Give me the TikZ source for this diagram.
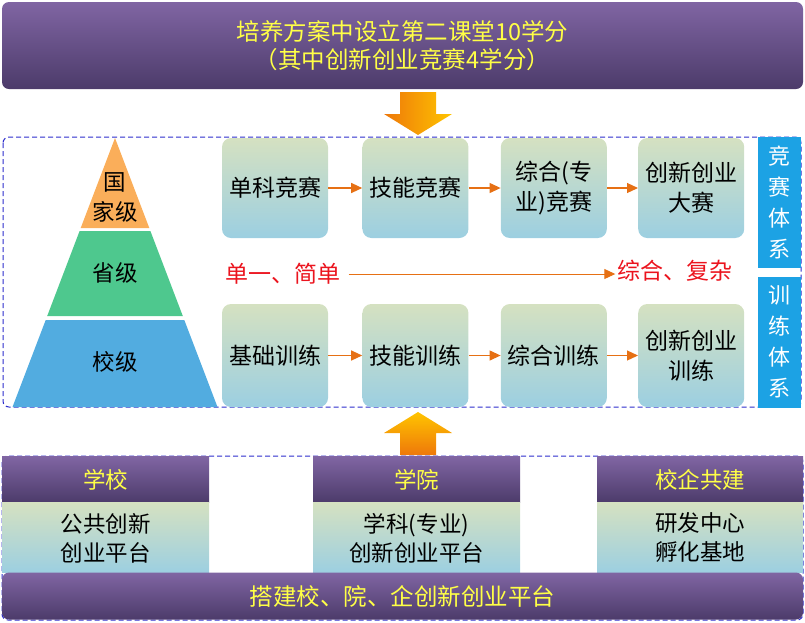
\documentclass[tikz,border=0pt]{standalone}
\usepackage{fontspec}
\setmainfont{Noto Sans CJK SC}
\usetikzlibrary{positioning,arrows.meta}

\definecolor{purpleTop}{RGB}{128,101,163}
\definecolor{purpleBot}{RGB}{76,59,106}
\definecolor{boxTop}{RGB}{213,225,193}
\definecolor{boxBot}{RGB}{156,207,225}
\definecolor{pyrOrange}{RGB}{250,174,90}
\definecolor{pyrGreen}{RGB}{78,200,142}
\definecolor{pyrBlue}{RGB}{82,172,224}
\definecolor{barBlue}{RGB}{28,162,228}
\definecolor{flowOrange}{RGB}{230,112,20}
\definecolor{dashBlue}{RGB}{45,45,205}
\definecolor{txtRed}{RGB}{235,20,30}
\definecolor{txtYellow}{RGB}{255,255,70}
\definecolor{bigDark}{RGB}{238,120,10}
\definecolor{bigLight}{RGB}{255,196,0}

\begin{document}
\begin{tikzpicture}[x=1pt,y=-1pt,
        box/.style = {
            rounded corners=9pt,
            top color=boxTop, bottom color=boxBot,
            minimum width=106pt, minimum height=100pt,
            align=center, inner sep=2pt,
            font=\fontsize{23}{30}\selectfont
        },
        banner/.style = {
            rounded corners=7pt,
            top color=purpleTop, bottom color=purpleBot,
            text=txtYellow, align=center, inner sep=0pt,
            font=\fontsize{23.5}{28}\selectfont
        },
        head/.style = {
            top color=purpleTop, bottom color=purpleBot,
            text=txtYellow, minimum width=207pt, minimum height=46pt,
            inner sep=0pt, font=\fontsize{22.5}{28}\selectfont
        },
        plat/.style = {
            top color=boxTop, bottom color=boxBot,
            minimum width=207pt, minimum height=70pt,
            align=center, inner sep=0pt,
            font=\fontsize{22.5}{29}\selectfont
        },
        sidebar/.style = {
            fill=barBlue, text=white, minimum width=43pt,
            minimum height=131pt, align=center, inner sep=0pt,
            font=\fontsize{22}{31}\selectfont
        },
        level/.style = {align=center, font=\fontsize{22.5}{30}\selectfont},
        trend/.style = {text=txtRed, inner sep=2pt, font=\fontsize{23}{28}\selectfont},
        flow/.style = {draw=flowOrange, line width=1.2pt,
            -{Triangle[length=11pt,width=10pt]}},
        frame/.style = {draw=dashBlue, line width=1pt,
            dash pattern=on 5pt off 3pt, rounded corners=6pt}
    ]
    \useasboundingbox (0,0) rectangle (805,622);

    % top banner
    \node[banner, minimum width=801pt, minimum height=87pt] (peiyang) at (402.5,45.5)
        {培养方案中设立第二课堂10学分\\（其中创新创业竞赛4学分）};

    % big arrows
    \shade[left color=bigDark, right color=bigLight]
        (400,92) -- (436,92) -- (436,114) -- (452,114) -- (418,135)
        -- (384,114) -- (400,114) -- cycle;
    \shade[top color=bigLight, bottom color=bigDark]
        (418,412) -- (452,433) -- (436,433) -- (436,455) -- (400,455)
        -- (400,433) -- (384,433) -- cycle;

    % middle frame
    \draw[frame] (3,137) rectangle (801,407);
    \node[sidebar] (jingsai) at (779,202.5) {竞\\赛\\体\\系};
    \node[sidebar] (xunlian) at (779,342) {训\\练\\体\\系};

    % pyramid
    \fill[pyrOrange] (115,138) -- (149.3,228) -- (80.7,228) -- cycle;
    \fill[pyrGreen] (79.6,231) -- (150.4,231) -- (182.8,316) -- (47.2,316) -- cycle;
    \fill[pyrBlue] (45.7,320) -- (184.3,320) -- (217.5,407) -- (12.5,407) -- cycle;
    \node[level] (guojia) at (115,197) {国\\家级};
    \node[level] (sheng) at (115,273) {省级};
    \node[level] (xiao) at (115,362) {校级};

    % competition row
    \node[box] (danke) at (275,188) {单科竞赛};
    \node[box, right=34pt of danke] (jineng) {技能竞赛};
    \node[box, right=32pt of jineng] (zonghe) {综合(专\\业)竞赛};
    \node[box, right=31pt of zonghe] (dasai) {创新创业\\大赛};

    % training row
    \node[box, minimum height=103pt] (jichu) at (275,355.5) {基础训练};
    \node[box, minimum height=103pt, right=34pt of jichu] (jnxl) {技能训练};
    \node[box, minimum height=103pt, right=32pt of jnxl] (zhxl) {综合训练};
    \node[box, minimum height=103pt, right=31pt of zhxl] (cxxl) {创新创业\\训练};

    \draw[flow] (danke) -- (jineng);
    \draw[flow] (jineng) -- (zonghe);
    \draw[flow] (zonghe) -- (dasai);
    \draw[flow] (jichu) -- (jnxl);
    \draw[flow] (jnxl) -- (zhxl);
    \draw[flow] (zhxl) -- (cxxl);

    % trend
    \node[trend] (simple) at (283,274) {单一、简单};
    \node[trend] (complex) at (675,271) {综合、复杂};
    \draw[flow, line width=1pt, shorten <=6pt] (simple) -- (simple -| complex.west);

    % platforms
    \draw[frame] (2,456) rectangle (803,620);
    \node[head] (xuexiao) at (105.5,479.5) {学校};
    \node[head] (xueyuan) at (416.5,479.5) {学院};
    \node[head, minimum width=206pt] (xiaoqi) at (700,479.5) {校企共建};
    \node[plat, below=0pt of xuexiao] (gonggong) {公共创新\\创业平台};
    \node[plat, below=0pt of xueyuan] (xueke) {学科(专业)\\创新创业平台};
    \node[plat, minimum width=206pt, below=0pt of xiaoqi] (yanfa) {研发中心\\孵化基地};
    \node[banner, minimum width=801pt, minimum height=47pt] (dajian) at (402.5,596)
        {搭建校、院、企创新创业平台};
\end{tikzpicture}
\end{document}
